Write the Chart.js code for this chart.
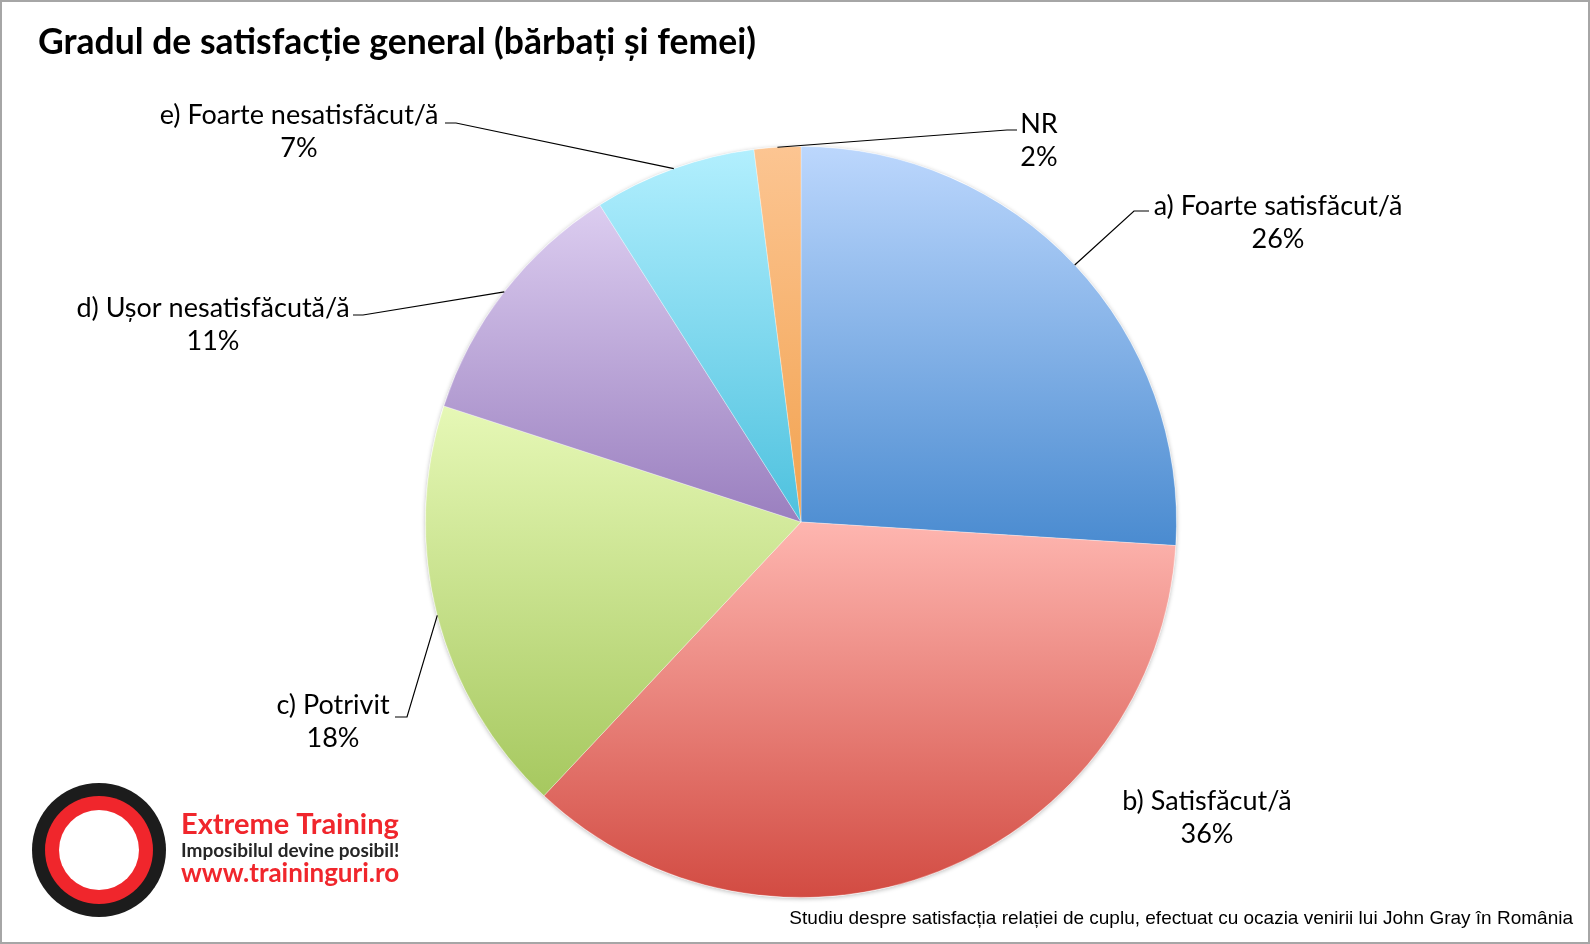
<!DOCTYPE html>
<html lang="ro">

<head>
  <meta charset="UTF-8" />
  <title>Gradul de satisfacție general</title>
  <style>
    body {
      margin: 0;
      background: #fff;
    }
    #wrap {
      width: 1590px;
      height: 944px;
    }
  </style>
</head>

<body>
  <div id="wrap">
    <canvas id="myChart" width="1590" height="944"></canvas>
  </div>

  <script src="https://cdn.jsdelivr.net/npm/chart.js"></script>
  <script>
    // date (procente)
    const categories = [
      "a) Foarte satisfăcut/ă",
      "b) Satisfăcut/ă",
      "c) Potrivit",
      "d) Ușor nesatisfăcută/ă",
      "e) Foarte nesatisfăcut/ă",
      "NR",
    ];
    const values = [26, 36, 18, 11, 7, 2];

    const topColors = ["#bcd7fd", "#feb6b0", "#e6f8b6", "#dccdf0", "#b2effe", "#fcc592"];
    const bottomColors = ["#4a8bd0", "#d24b42", "#a6c85f", "#9a7fbf", "#4dc1de", "#f2a24f"];

    // pozitia etichetelor: centru text, baseline, cot linie (x, y, capat)
    const labelPos = [
      { x: 1278, y: 215, elbow: [1134, 211, 1149] },
      { x: 1207, y: 810 },
      { x: 333, y: 714, elbow: [407, 717, 395] },
      { x: 213, y: 317, elbow: [363, 315, 353] },
      { x: 299, y: 124, elbow: [456, 123, 445] },
      { x: 1039, y: 133, elbow: [1007, 130, 1017] },
    ];

    const FONT = "Lato, 'Open Sans', sans-serif";

    // gradient vertical pe fiecare felie
    function sliceFill(context) {
      const chart = context.chart;
      const area = chart.chartArea;
      const i = context.dataIndex;
      if (!area) return topColors[i];
      const total = values.reduce((s, v) => s + v, 0);
      let before = 0;
      for (let k = 0; k < i; k++) before += values[k];
      const a0 = -Math.PI / 2 + (before / total) * 2 * Math.PI;
      const a1 = a0 + (values[i] / total) * 2 * Math.PI;
      const cy = (area.top + area.bottom) / 2;
      const r = Math.min(area.right - area.left, area.bottom - area.top) / 2;
      let minY = cy, maxY = cy;
      for (let s = 0; s <= 60; s++) {
        const y = cy + r * Math.sin(a0 + ((a1 - a0) * s) / 60);
        minY = Math.min(minY, y);
        maxY = Math.max(maxY, y);
      }
      const g = chart.ctx.createLinearGradient(0, minY, 0, maxY);
      g.addColorStop(0, topColors[i]);
      g.addColorStop(1, bottomColors[i]);
      return g;
    }

    const decorPlugin = {
      id: "decor",
      beforeDraw(chart) {
        const c = chart.ctx;
        c.save();
        c.fillStyle = "#fff";
        c.fillRect(0, 0, chart.width, chart.height);
        c.restore();
      },
      beforeDatasetsDraw(chart) {
        // umbra discreta sub placinta
        const meta = chart.getDatasetMeta(0);
        const arc = meta.data[0];
        if (!arc) return;
        const c = chart.ctx;
        c.save();
        c.beginPath();
        c.arc(arc.x, arc.y, arc.outerRadius + 0.5, 0, Math.PI * 2);
        c.fillStyle = "#fff";
        c.shadowColor = "rgba(0,0,0,0.25)";
        c.shadowBlur = 4;
        c.shadowOffsetY = 1;
        c.fill();
        c.restore();
      },
      afterDraw(chart) {
        const c = chart.ctx;
        const meta = chart.getDatasetMeta(0);
        c.save();

        // titlu
        c.fillStyle = "#000";
        c.textAlign = "left";
        c.textBaseline = "alphabetic";
        c.font = "bold 35.5px " + FONT;
        c.fillText("Gradul de satisfacție general (bărbați și femei)", 38, 54);

        // etichete + linii
        c.font = "27px " + FONT;
        c.textAlign = "center";
        c.strokeStyle = "#000";
        c.lineWidth = 1.2;
        meta.data.forEach((arc, i) => {
          const p = labelPos[i];
          c.fillText(categories[i], p.x, p.y);
          c.fillText(values[i] + "%", p.x, p.y + 33);
          if (p.elbow) {
            const mid = (arc.startAngle + arc.endAngle) / 2;
            const ex = arc.x + arc.outerRadius * Math.cos(mid);
            const ey = arc.y + arc.outerRadius * Math.sin(mid);
            c.beginPath();
            c.moveTo(ex, ey);
            c.lineTo(p.elbow[0], p.elbow[1]);
            c.lineTo(p.elbow[2], p.elbow[1]);
            c.stroke();
          }
        });

        // sigla
        const lx = 99, ly = 850;
        c.beginPath(); c.arc(lx, ly, 67, 0, Math.PI * 2); c.fillStyle = "#1c1c1c"; c.fill();
        c.beginPath(); c.arc(lx, ly, 54, 0, Math.PI * 2); c.fillStyle = "#f0262c"; c.fill();
        c.beginPath(); c.arc(lx, ly, 40, 0, Math.PI * 2); c.fillStyle = "#fff"; c.fill();
        c.textAlign = "left";
        c.fillStyle = "#f0262c";
        c.font = "bold 29px " + FONT;
        c.fillText("Extreme Training", 181, 834);
        c.fillStyle = "#262626";
        c.font = "bold 19px " + FONT;
        c.fillText("Imposibilul devine posibil!", 181, 857);
        c.fillStyle = "#f0262c";
        c.font = "bold 26px " + FONT;
        c.fillText("www.traininguri.ro", 181, 882);

        // nota de subsol
        c.fillStyle = "#000";
        c.textAlign = "right";
        c.font = "19px 'Liberation Sans', Arial, sans-serif";
        c.fillText("Studiu despre satisfacția relației de cuplu, efectuat cu ocazia venirii lui John Gray în România", 1573, 924);

        // rama
        c.strokeStyle = "#a6a6a6";
        c.lineWidth = 2;
        c.strokeRect(1, 1, chart.width - 2, chart.height - 2);
        c.restore();
      },
    };

    const ctx = document.getElementById("myChart");
    new Chart(ctx, {
      type: "pie",
      data: {
        labels: categories,
        datasets: [
          {
            data: values,
            backgroundColor: sliceFill,
            borderColor: "rgba(255,255,255,0.3)",
            borderWidth: 1,
          },
        ],
      },
      options: {
        responsive: false,
        animation: false,
        layout: { padding: { top: 146, bottom: 46, left: 425, right: 413 } },
        plugins: {
          legend: { display: false },
          tooltip: { enabled: false },
        },
      },
      plugins: [decorPlugin],
    });
  </script>
</body>

</html>
